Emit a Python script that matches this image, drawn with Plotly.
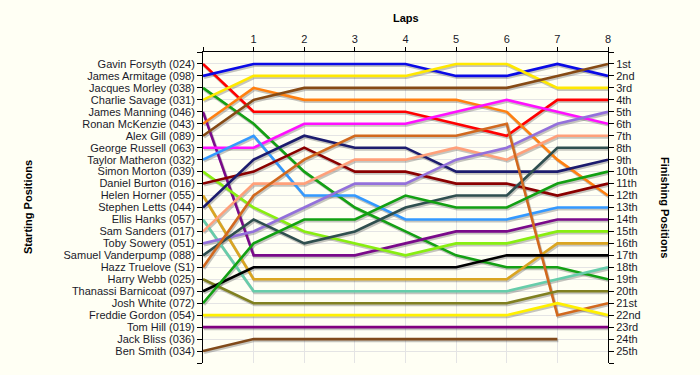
import plotly.graph_objects as go

laps = [0, 1, 2, 3, 4, 5, 6, 7, 8]

drivers = [
    "Gavin Forsyth (024)", "James Armitage (098)", "Jacques Morley (038)",
    "Charlie Savage (031)", "James Manning (046)", "Ronan McKenzie (043)",
    "Alex Gill (089)", "George Russell (063)", "Taylor Matheron (032)",
    "Simon Morton (039)", "Daniel Burton (016)", "Helen Horner (055)",
    "Stephen Letts (044)", "Ellis Hanks (057)", "Sam Sanders (017)",
    "Toby Sowery (051)", "Samuel Vanderpump (088)", "Hazz Truelove (S1)",
    "Harry Webb (025)", "Thanassi Barnicoat (097)", "Josh White (072)",
    "Freddie Gordon (054)", "Tom Hill (019)", "Jack Bliss (036)",
    "Ben Smith (034)",
]

finish_labels = [
    "1st", "2nd", "3rd", "4th", "5th", "6th", "7th", "8th", "9th", "10th",
    "11th", "12th", "13th", "14th", "15th", "16th", "17th", "18th", "19th",
    "20th", "21st", "22nd", "23rd", "24th", "25th",
]

# position of each driver after each lap (lap 0 = grid)
positions = {
    "Gavin Forsyth (024)":      [1, 5, 5, 5, 5, 6, 7, 4, 4],
    "James Armitage (098)":     [2, 1, 1, 1, 1, 2, 2, 1, 2],
    "Jacques Morley (038)":     [3, 6, 10, 13, 15, 17, 18, 18, 19],
    "Charlie Savage (031)":     [4, 2, 2, 2, 2, 1, 1, 3, 3],
    "James Manning (046)":      [5, 17, 17, 17, 16, 15, 15, 14, 14],
    "Ronan McKenzie (043)":     [6, 3, 4, 4, 4, 4, 5, 9, 12],
    "Alex Gill (089)":          [7, 4, 3, 3, 3, 3, 3, 2, 1],
    "George Russell (063)":     [8, 8, 6, 6, 6, 5, 4, 5, 6],
    "Taylor Matheron (032)":    [9, 7, 12, 12, 14, 14, 14, 13, 13],
    "Simon Morton (039)":       [10, 13, 15, 16, 17, 16, 16, 15, 15],
    "Daniel Burton (016)":      [11, 10, 8, 10, 10, 11, 11, 12, 11],
    "Helen Horner (055)":       [12, 19, 19, 19, 19, 19, 19, 16, 16],
    "Stephen Letts (044)":      [13, 9, 7, 8, 8, 10, 10, 10, 9],
    "Ellis Hanks (057)":        [14, 20, 20, 20, 20, 20, 20, 19, 18],
    "Sam Sanders (017)":        [15, 11, 11, 9, 9, 8, 9, 7, 7],
    "Toby Sowery (051)":        [16, 15, 13, 11, 11, 9, 8, 6, 5],
    "Samuel Vanderpump (088)":  [17, 14, 16, 15, 13, 12, 12, 8, 8],
    "Hazz Truelove (S1)":       [18, 12, 9, 7, 7, 7, 6, 22, 21],
    "Harry Webb (025)":         [19, 21, 21, 21, 21, 21, 21, 20, 20],
    "Thanassi Barnicoat (097)": [20, 18, 18, 18, 18, 18, 17, 17, 17],
    "Josh White (072)":         [21, 16, 14, 14, 12, 13, 13, 11, 10],
    "Freddie Gordon (054)":     [22, 22, 22, 22, 22, 22, 22, 21, 22],
    "Tom Hill (019)":           [23, 23, 23, 23, 23, 23, 23, 23, 23],
    "Jack Bliss (036)":         [24, None, None, None, None, None, None, None, None],
    "Ben Smith (034)":          [25, 24, 24, 24, 24, 24, 24, 24, None],
}

colors = {
    "Gavin Forsyth (024)": "#FF0000",
    "James Armitage (098)": "#0A0AE6",
    "Jacques Morley (038)": "#14A014",
    "Charlie Savage (031)": "#FFE800",
    "James Manning (046)": "#7A0A8A",
    "Ronan McKenzie (043)": "#FF8010",
    "Alex Gill (089)": "#864A14",
    "George Russell (063)": "#FF10FF",
    "Taylor Matheron (032)": "#3399FF",
    "Simon Morton (039)": "#88EE10",
    "Daniel Burton (016)": "#8A0000",
    "Helen Horner (055)": "#DAA520",
    "Stephen Letts (044)": "#1C1C6E",
    "Ellis Hanks (057)": "#66CDAA",
    "Sam Sanders (017)": "#FFA07A",
    "Toby Sowery (051)": "#9370DB",
    "Samuel Vanderpump (088)": "#2F4F4F",
    "Hazz Truelove (S1)": "#D2691E",
    "Harry Webb (025)": "#808020",
    "Thanassi Barnicoat (097)": "#000000",
    "Josh White (072)": "#12A012",
    "Freddie Gordon (054)": "#FFF000",
    "Tom Hill (019)": "#800080",
    "Jack Bliss (036)": "#808080",
    "Ben Smith (034)": "#804A1A",
}

fig = go.Figure()

# soft drop shadows
for d in drivers:
    ys = positions[d]
    fig.add_trace(go.Scatter(
        x=[v + 0.02 for v in laps],
        y=[None if p is None else p + 0.13 for p in ys],
        mode="lines", line=dict(color="rgba(90,90,90,0.35)", width=3),
        hoverinfo="skip", showlegend=False,
    ))

for d in drivers:
    fig.add_trace(go.Scatter(
        x=laps, y=positions[d], mode="lines", name=d,
        line=dict(color=colors[d], width=2.6),
        showlegend=False,
    ))

# dummy trace to activate right axis
fig.add_trace(go.Scatter(x=[None], y=[None], yaxis="y2", showlegend=False))

bg = "#FFFFF4"
font = dict(family="Liberation Sans, Arial, sans-serif", size=11, color="#1a1a2a")
ticks_pos = list(range(0, 27))
left_text = [""] + drivers + [""]
right_text = [""] + finish_labels + [""]

fig.update_layout(
    width=700, height=375,
    margin=dict(l=203, r=92, t=52, b=12, autoexpand=False),
    paper_bgcolor=bg, plot_bgcolor=bg,
    font=font,
    xaxis=dict(
        side="top", range=[0, 8], tickvals=list(range(0, 9)),
        ticktext=[""] + [str(i) for i in range(1, 9)],
        showgrid=True, gridcolor="#E4E4E4", gridwidth=1,
        showline=True, linecolor="black", linewidth=1,
        ticks="outside", ticklen=4, tickcolor="black",
        zeroline=False, fixedrange=True, automargin=False,
    ),
    yaxis=dict(
        range=[26, 0], tickvals=ticks_pos, ticktext=left_text,
        showgrid=True, gridcolor="#E4E4E4", gridwidth=1,
        showline=True, linecolor="black", linewidth=1,
        ticks="outside", ticklen=5, tickcolor="black",
        zeroline=False, fixedrange=True, automargin=False,
    ),
    yaxis2=dict(
        overlaying="y", side="right", range=[26, 0],
        tickvals=ticks_pos, ticktext=right_text,
        showgrid=False, showline=True, linecolor="black", linewidth=1,
        ticks="outside", ticklen=5, tickcolor="black",
        zeroline=False, fixedrange=True, automargin=False,
    ),
    annotations=[
        dict(text="<b>Laps</b>", xref="paper", yref="paper", x=0.5, y=(363 - 18) / 311,
             xanchor="center", yanchor="middle", showarrow=False,
             font=dict(family="Liberation Sans, Arial", size=11, color="black")),
        dict(text="<b>Starting Positions</b>", xref="paper", yref="paper",
             x=(28 - 203) / 405, y=(363 - 207) / 311, textangle=-90,
             xanchor="center", yanchor="middle", showarrow=False,
             font=dict(family="Liberation Sans, Arial", size=11, color="black")),
        dict(text="<b>Finishing Positions</b>", xref="paper", yref="paper",
             x=(665 - 203) / 405, y=(363 - 207) / 311, textangle=90,
             xanchor="center", yanchor="middle", showarrow=False,
             font=dict(family="Liberation Sans, Arial", size=11, color="black")),
    ],
)

fig.write_html(
    "out.html",
    config={"displayModeBar": False},
    post_script="document.body.style.margin='0';document.body.style.background='#FFFFF4';",
)
